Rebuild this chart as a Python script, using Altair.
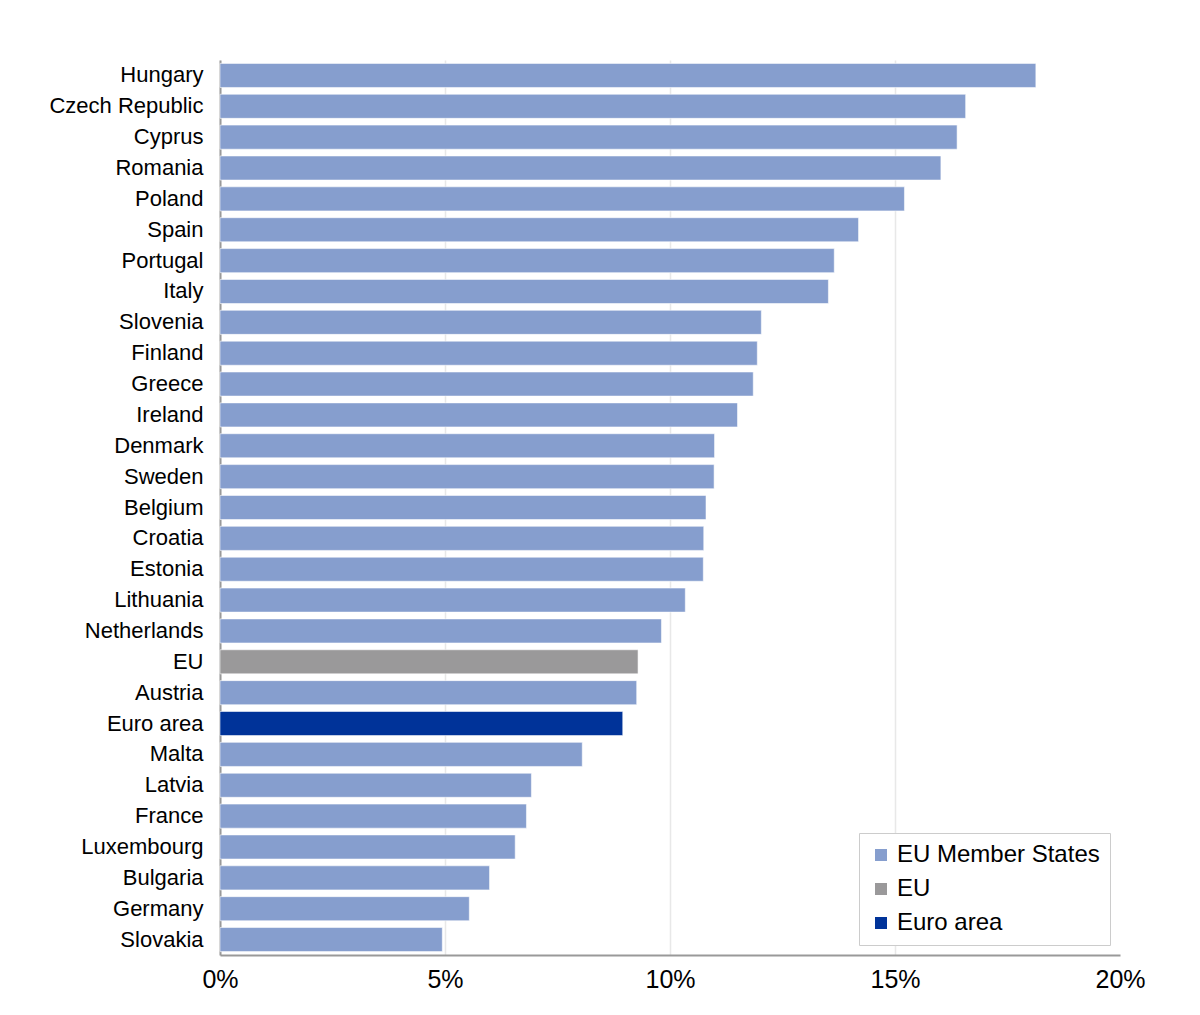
import altair as alt
import pandas as pd

countries = ["Hungary", "Czech Republic", "Cyprus", "Romania", "Poland", "Spain",
             "Portugal", "Italy", "Slovenia", "Finland", "Greece", "Ireland",
             "Denmark", "Sweden", "Belgium", "Croatia", "Estonia", "Lithuania",
             "Netherlands", "EU", "Austria", "Euro area", "Malta", "Latvia",
             "France", "Luxembourg", "Bulgaria", "Germany", "Slovakia"]
values = [18.13, 16.57, 16.38, 16.02, 15.21, 14.19,
          13.65, 13.52, 12.03, 11.94, 11.85, 11.50,
          10.99, 10.98, 10.80, 10.75, 10.74, 10.34,
          9.81, 9.29, 9.26, 8.95, 8.05, 6.92,
          6.81, 6.56, 5.99, 5.54, 4.94]
groups = ["EU" if c == "EU" else ("Euro area" if c == "Euro area" else "EU Member States")
          for c in countries]

legend_domain = ["EU Member States", "EU", "Euro area"]
legend_colors = ["#869ECE", "#9A999A", "#003399"]

df = pd.DataFrame({"country": countries, "value": [v / 100 for v in values], "group": groups})

FONT = "Liberation Sans"

chart = alt.Chart(df).mark_bar(
    stroke="#ffffff", strokeOpacity=0.55, strokeWidth=1
).encode(
    y=alt.Y("country:N", sort=countries, title=None,
            scale=alt.Scale(paddingInner=0.22, paddingOuter=0.11),
            axis=alt.Axis(labelFontSize=22, labelFont=FONT, labelColor="#000000",
                          labelPadding=17, ticks=False, domainColor="#999999",
                          domainWidth=2, grid=False, labelLimit=300)),
    x=alt.X("value:Q", title=None,
            scale=alt.Scale(domain=[0, 0.2], nice=False),
            axis=alt.Axis(format=".0%", values=[0, 0.05, 0.1, 0.15, 0.2],
                          labelFontSize=25, labelFont=FONT, labelColor="#000000",
                          labelPadding=12, ticks=False, domainColor="#999999",
                          domainWidth=2, grid=True, gridColor="#e8e8e8",
                          gridWidth=1.5, labelFlush=False,
                          gridOpacity=alt.expr("datum.value >= 0.2 ? 0 : 1"))),
    color=alt.Color("group:N",
                    scale=alt.Scale(domain=legend_domain, range=legend_colors),
                    legend=alt.Legend(title=None, orient="bottom-right", offset=10,
                                      symbolType="square", symbolSize=144,
                                      symbolStrokeWidth=0,
                                      labelFontSize=24, labelFont=FONT,
                                      labelColor="#000000", labelOffset=4,
                                      rowPadding=10, padding=10,
                                      strokeColor="#cccccc", fillColor="#ffffff",
                                      labelLimit=400)),
).properties(
    width=900, height=895,
    autosize=alt.AutoSizeParams(type="none"),
    padding={"left": 212, "top": 52, "right": 60, "bottom": 60},
).configure_view(stroke=None)

chart.save("out.html", embed_options={"renderer": "svg", "actions": False})
